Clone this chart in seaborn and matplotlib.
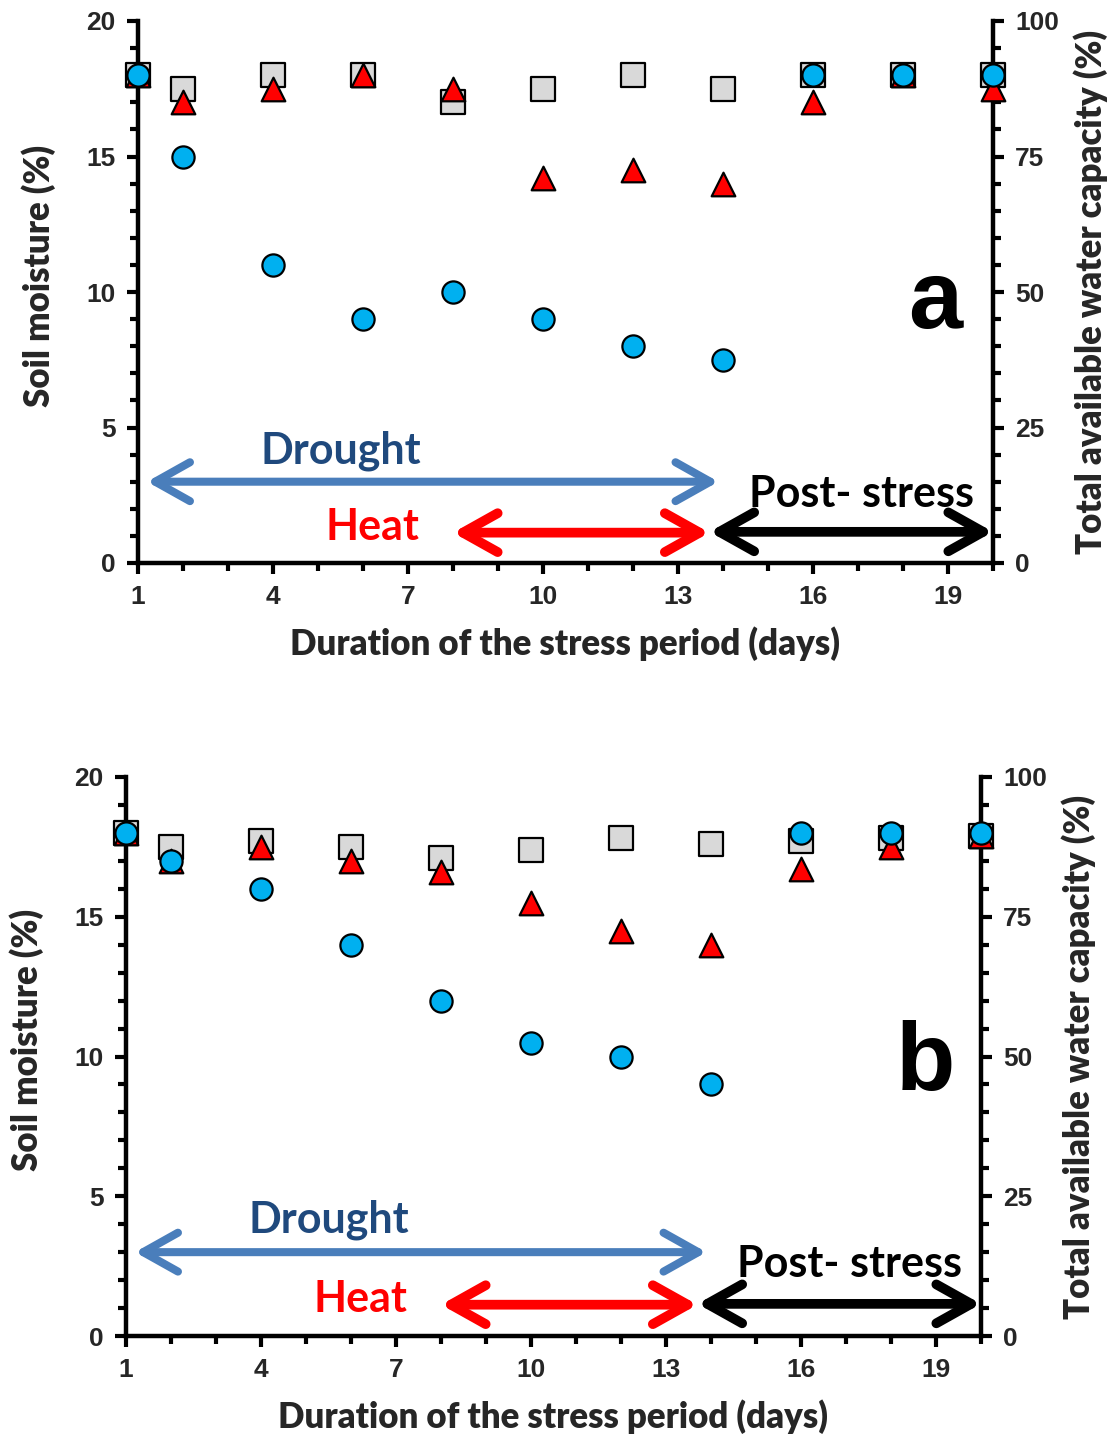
import matplotlib
matplotlib.use("Agg")
import matplotlib.pyplot as plt
from matplotlib.ticker import MultipleLocator
import seaborn as sns
import pandas as pd

# Sampling days
days = [1, 2, 4, 6, 8, 10, 12, 14, 16, 18, 20]

# Panel a: soil moisture (%)
control_a = [18.0, 17.5, 18.0, 18.0, 17.0, 17.5, 18.0, 17.5, 18.0, 18.0, 18.0]
heat_a = [18.0, 17.0, 17.5, 18.0, 17.5, 14.2, 14.5, 14.0, 17.0, 18.0, 17.5]
drought_a = [18.0, 15.0, 11.0, 9.0, 10.0, 9.0, 8.0, 7.5, 18.0, 18.0, 18.0]

# Panel b: soil moisture (%)
control_b = [18.0, 17.5, 17.7, 17.5, 17.1, 17.4, 17.8, 17.6, 17.7, 17.8, 17.9]
heat_b = [18.0, 17.0, 17.5, 17.0, 16.6, 15.5, 14.5, 14.0, 16.7, 17.5, 17.9]
drought_b = [18.0, 17.0, 16.0, 14.0, 12.0, 10.5, 10.0, 9.0, 18.0, 18.0, 18.0]

x_major_ticks = [1, 4, 7, 10, 13, 16, 19]
left_ticks = [0, 5, 10, 15, 20]
right_ticks = [0, 25, 50, 75, 100]

# Treatment periods drawn as arrows (start day, end day)
drought_span = (1.2, 13.9)
heat_span = (8.0, 13.7)
post_span = (13.7, 20.0)

sns.set_theme(style="ticks")
plt.rcParams["font.family"] = ["Lato", "DejaVu Sans"]

TICK_FONT = dict(fontfamily="Liberation Sans", fontweight="bold", fontsize=19)
LABEL_FONT = dict(family="Lato", weight="heavy", size=25)
NOTE_SIZE = 31

fig = plt.figure(figsize=(11.07, 14.38), dpi=100)
ax_a = fig.add_axes([138 / 1107, 1 - 563 / 1438, 855 / 1107, 542 / 1438])
ax_b = fig.add_axes([126 / 1107, 1 - 1336 / 1438, 855 / 1107, 559 / 1438])

series_style = [
    ("control", "s", "#d9d9d9", 17, 3),
    ("heat", "^", "#ff0000", 17, 4),
    ("drought", "o", "#00b0f0", 16, 5),
]


def draw_panel(ax, control, heat, drought, letter, letter_xy):
    df = pd.DataFrame({"day": days, "control": control,
                       "heat": heat, "drought": drought})
    for col, marker, color, ms, z in series_style:
        sns.scatterplot(data=df, x="day", y=col, ax=ax, marker=marker,
                        s=ms ** 2, color=color, edgecolor="black",
                        linewidth=1.6, zorder=z, clip_on=False, legend=False)

    ax.set_xlim(1, 20)
    ax.set_ylim(0, 20)
    ax.set_xticks(x_major_ticks)
    ax.set_xticklabels([str(t) for t in x_major_ticks], **TICK_FONT)
    ax.set_yticks(left_ticks)
    ax.set_yticklabels([str(t) for t in left_ticks], **TICK_FONT)
    ax.xaxis.set_minor_locator(MultipleLocator(1))
    ax.yaxis.set_minor_locator(MultipleLocator(1))
    ax.tick_params(which="major", direction="out", length=8, width=3,
                   color="black", pad=8)
    ax.tick_params(which="minor", direction="out", length=6, width=3,
                   color="black")
    for side in ("left", "bottom"):
        ax.spines[side].set_linewidth(3.2)
        ax.spines[side].set_color("black")
    ax.spines["top"].set_visible(False)
    ax.spines["right"].set_visible(False)

    ax.set_xlabel("Duration of the stress period (days)", labelpad=12,
                  **LABEL_FONT)
    ax.set_ylabel("Soil moisture (%)", **LABEL_FONT)
    ax.yaxis.set_label_coords(-0.096, 0.53)

    tw = ax.twinx()
    tw.set_ylim(0, 100)
    tw.set_yticks(right_ticks)
    tw.set_yticklabels([str(t) for t in right_ticks], **TICK_FONT)
    tw.yaxis.set_minor_locator(MultipleLocator(5))
    tw.tick_params(which="major", direction="out", length=8, width=3,
                   color="black", pad=8)
    tw.tick_params(which="minor", direction="out", length=6, width=3,
                   color="black")
    for side in ("left", "top", "bottom"):
        tw.spines[side].set_visible(False)
    tw.spines["right"].set_linewidth(3.2)
    tw.spines["right"].set_color("black")
    tw.set_ylabel("Total available water capacity (%)", labelpad=10,
                  **LABEL_FONT)
    ax.set_zorder(tw.get_zorder() + 1)
    ax.patch.set_visible(False)

    # Treatment period arrows
    def arrow(span, y, color, lw):
        ax.annotate("", xy=(span[1], y), xytext=(span[0], y),
                    xycoords="data", textcoords="data",
                    arrowprops=dict(arrowstyle="<->,head_length=2.5,head_width=1.4",
                                    mutation_scale=10, lw=lw, color=color,
                                    capstyle="round", joinstyle="round",
                                    shrinkA=0, shrinkB=0),
                    annotation_clip=False, zorder=6)

    arrow(drought_span, 3.0, "#4a7ebb", 5.8)
    arrow(heat_span, 1.12, "#ff0000", 7.0)
    arrow(post_span, 1.15, "black", 7.0)

    ax.text(5.5, 4.15, "Drought", color="#1f497d", ha="center", va="center",
            family="Lato", weight="bold", size=NOTE_SIZE)
    ax.text(6.2, 1.33, "Heat", color="#ff0000", ha="center", va="center",
            family="Lato", weight="bold", size=NOTE_SIZE)
    ax.text(17.07, 2.56, "Post- stress", color="black", ha="center",
            va="center", family="Lato", weight="bold", size=NOTE_SIZE)
    ax.text(letter_xy[0], letter_xy[1], letter, color="black", ha="center",
            va="baseline", family="Liberation Sans", weight="bold", size=70)


draw_panel(ax_a, control_a, heat_a, drought_a, "a", (18.71, 8.67))
draw_panel(ax_b, control_b, heat_b, drought_b, "b", (18.76, 8.8))

fig.savefig("out.png", dpi=100)
